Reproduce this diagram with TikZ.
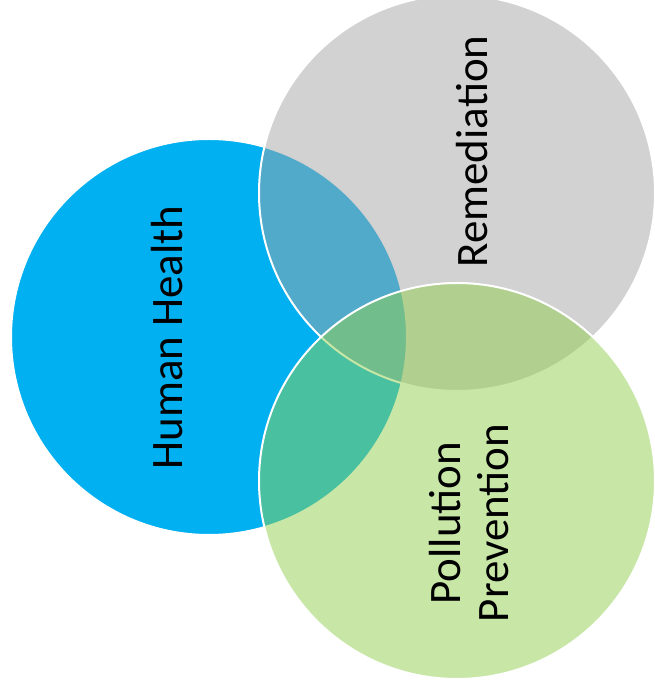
\documentclass[tikz,border=0pt]{standalone}
\usepackage{fontspec}
\setmainfont{Carlito}
\definecolor{hhblue}{HTML}{00B0F0}
\definecolor{remgray}{HTML}{A5A5A5}
\definecolor{ppgreen}{HTML}{92D050}
\begin{document}
\begin{tikzpicture}[x=1pt,y=1pt,
  venn/.style={circle, minimum size=396pt, inner sep=0pt, draw=white, line width=2pt},
  lbl/.style={rotate=90, font=\fontsize{45}{48}\selectfont, text=black, inner sep=0pt}]
\useasboundingbox (0,0) rectangle (654,690);
\node[venn, fill=hhblue] (health) at (209,353) {};
\node[venn, fill=remgray, fill opacity=0.5] (remed) at (457,497) {};
\node[venn, fill=ppgreen, fill opacity=0.5] (pollu) at (457,209) {};
\node[lbl, anchor=base] (thealth) at (182,352.5) {Human Health};
\node[lbl, anchor=base] (tremed) at (487,538.5) {Remediation};
\node[lbl, anchor=center, align=center] (tpollu) at (469,167) {Pollution\\Prevention};
\end{tikzpicture}
\end{document}
